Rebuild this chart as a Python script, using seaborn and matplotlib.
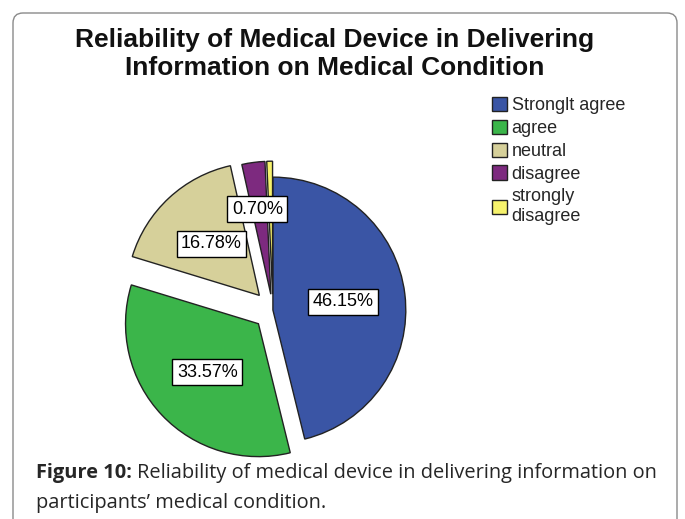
import numpy as np
import matplotlib
matplotlib.use("Agg")
import matplotlib.pyplot as plt
from matplotlib.patches import FancyBboxPatch
import seaborn as sns

categories = ["Stronglt agree", "agree", "neutral", "disagree", "strongly\ndisagree"]
percentages = [46.15, 33.57, 16.78, 2.80, 0.70]
shown_labels = [True, True, True, False, True]
slice_colors = ["#3A55A5", "#3BB54A", "#D6D09A", "#7D2A7F", "#F6F26C"]
explode = [0.0, 0.15, 0.15, 0.12, 0.12]

title = "Reliability of Medical Device in Delivering\nInformation on Medical Condition"
caption_bold = "Figure 10:"
caption_rest = "Reliability of medical device in delivering information on"
caption_line2 = "participants\u2019 medical condition."

sns.set_theme(style="white")
plt.rcParams["font.family"] = ["Liberation Sans", "DejaVu Sans"]

fig = plt.figure(figsize=(6.85, 5.19), dpi=100)

# outer rounded frame
frame = FancyBboxPatch((0.13, -0.3), 6.64, 5.36,
                       boxstyle="round,pad=0,rounding_size=0.1",
                       transform=fig.dpi_scale_trans, fc="none",
                       ec="#8a8a8a", lw=1.0, zorder=-1)
fig.patches.append(frame)

ax = fig.add_axes([0.2044, 0.1464, 0.388, 0.5125])
palette = sns.color_palette(slice_colors)

wedges, texts, autotexts = ax.pie(
    percentages, colors=palette, explode=explode, startangle=90,
    counterclock=False, radius=1.0, pctdistance=0.53,
    autopct=lambda p: "%.2f%%" % p,
    wedgeprops=dict(edgecolor="#222222", linewidth=1.0))
ax.set_xlim(-1, 1)
ax.set_ylim(-1, 1)
ax.set_aspect("equal")
ax.axis("off")

for w, t, show in zip(wedges, autotexts, shown_labels):
    if not show:
        t.set_visible(False)
        continue
    t.set_fontsize(13)
    t.set_color("black")
    t.set_bbox(dict(boxstyle="square,pad=0.25", fc="white", ec="black", lw=1.0))
    if abs(w.theta2 - w.theta1) < 3:
        # small slice label sits higher, as in the original
        ang = np.deg2rad((w.theta1 + w.theta2) / 2)
        t.set_position((0.76 * np.cos(ang) - 0.1, 0.76 * np.sin(ang)))

fig.text(0.489, 1 - 54 / 519, title, ha="center", va="center", fontsize=19,
         fontweight="bold", linespacing=1.2, color="#111111")

handles = wedges
leg = fig.legend(handles, categories, loc="upper left",
                 bbox_to_anchor=(481 / 685, 1 - 86 / 519), frameon=False,
                 fontsize=13, handlelength=0.85, handleheight=0.85,
                 handletextpad=0.25, labelspacing=0.3, borderpad=0.1)
for h in leg.legend_handles:
    h.set_edgecolor("#222222")

# caption with bold prefix
cap_font = ["Open Sans", "DejaVu Sans"]
tb = fig.text(36 / 685, 1 - 473 / 519, caption_bold, ha="left", va="center",
              fontsize=14.4, fontweight="bold", family=cap_font)
fig.canvas.draw()
bb = tb.get_window_extent(fig.canvas.get_renderer())
fig.text(bb.x1 / fig.bbox.width + 0.007, 1 - 473 / 519, caption_rest,
         ha="left", va="center", fontsize=14.4, family=cap_font)
fig.text(36 / 685, 1 - 503 / 519, caption_line2, ha="left", va="center",
         fontsize=14.4, family=cap_font)

fig.savefig("out.png", dpi=100)
